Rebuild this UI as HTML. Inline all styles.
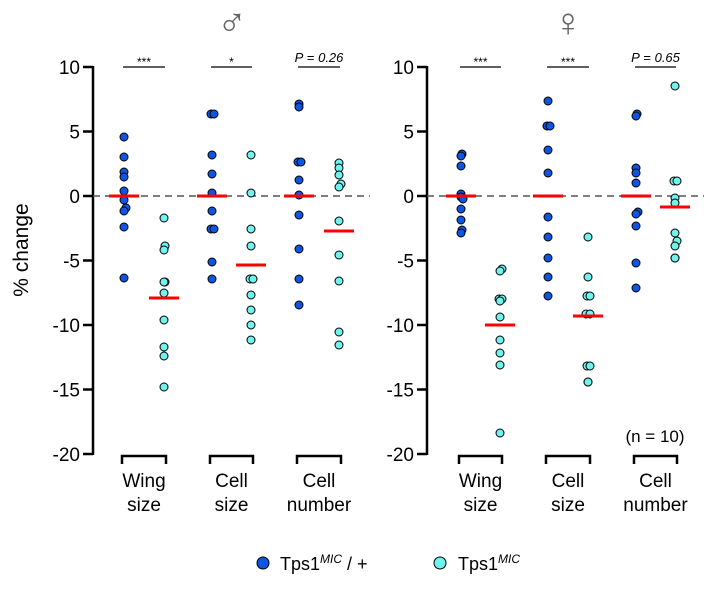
<!DOCTYPE html>
<html><head><meta charset="utf-8"><style>
html,body{margin:0;padding:0;background:#fff}
svg{display:block;font-family:"Liberation Sans",Arial,sans-serif}
</style></head><body>
<svg id="s" width="720" height="600" viewBox="0 0 720 600" xmlns="http://www.w3.org/2000/svg">
<rect width="720" height="600" fill="#fff"/>
<text x="232" y="36" font-size="40" text-anchor="middle" fill="#666" font-family="DejaVu Sans ExtraLight, DejaVu Sans, sans-serif" font-weight="200">♂</text>
<text x="568" y="36" font-size="40" text-anchor="middle" fill="#666" font-family="DejaVu Sans ExtraLight, DejaVu Sans, sans-serif" font-weight="200">♀</text>
<text x="28" y="250" font-size="21" text-anchor="middle" transform="rotate(-90 28 250)">% change</text>
<g id="g"></g>
<circle cx="263" cy="563" r="6" fill="#0b57e3" stroke="#000" stroke-width="1"/>
<text x="280" y="570" font-size="18">Tps1<tspan font-size="12" font-style="italic" dy="-7">MIC</tspan><tspan dy="7"> / +</tspan></text>
<circle cx="440" cy="563" r="6" fill="#6ff3ee" stroke="#000" stroke-width="1"/>
<text x="458" y="570" font-size="18">Tps1<tspan font-size="12" font-style="italic" dy="-7">MIC</tspan></text>
</svg>
<script>
var g=document.getElementById('g'),h='';
function Y(v){return 196-12.9*v;}
function panel(ax,xs,sig,data,means){
  h+='<line x1="'+ax+'" y1="66" x2="'+ax+'" y2="455" stroke="#000" stroke-width="2.5"/>';
  [10,5,0,-5,-10,-15,-20].forEach(function(v){var y=Y(v);
    h+='<line x1="'+(ax-10)+'" y1="'+y+'" x2="'+ax+'" y2="'+y+'" stroke="#000" stroke-width="2.5"/>';
    h+='<text x="'+(ax-13)+'" y="'+(y+7)+'" font-size="19" text-anchor="end">'+v+'</text>';});
  h+='<line x1="'+ax+'" y1="196" x2="'+(ax+277)+'" y2="196" stroke="#555" stroke-width="1.5" stroke-dasharray="7,5"/>';
  var labs=[['Wing','size'],['Cell','size'],['Cell','number']];
  for(var i=0;i<3;i++){var a=xs[2*i],b=xs[2*i+1],c=(a+b)/2;
    h+='<path d="M'+(a-2)+' 464 V456 H'+(b+2)+' V464" fill="none" stroke="#000" stroke-width="2.5"/>';
    h+='<text x="'+c+'" y="487" font-size="19" text-anchor="middle">'+labs[i][0]+'</text>';
    h+='<text x="'+c+'" y="511" font-size="19" text-anchor="middle">'+labs[i][1]+'</text>';
    h+='<line x1="'+(a-1)+'" y1="67" x2="'+(b+1)+'" y2="67" stroke="#000" stroke-width="1.3"/>';
    var s=sig[i];
    if(s[0]=='P') h+='<text x="'+c+'" y="62" font-size="13" font-style="italic" text-anchor="middle">P<tspan font-style="normal"> = </tspan>'+s.slice(1)+'</text>';
    else h+='<text x="'+c+'" y="66" font-size="12" text-anchor="middle">'+s+'</text>';
  }
  for(var j=0;j<6;j++){var col=j%2?'#6ff3ee':'#0b57e3';
    data[j].forEach(function(p){var x=xs[j],y=p;if(Array.isArray(p)){x+=p[1];y=p[0];}
      h+='<circle cx="'+x+'" cy="'+y+'" r="4" fill="'+col+'" stroke="#000" stroke-width="1"/>';});
    h+='<line x1="'+(xs[j]-15)+'" y1="'+means[j]+'" x2="'+(xs[j]+15)+'" y2="'+means[j]+'" stroke="#f00" stroke-width="3"/>';
  }
}
panel(93,[124,164,212,251,299,339],['***','*','P0.26'],[
 [137,157,172,177,191,200,[208,2],211,227,278],
 [218,[246,1],250,[282,1],282,293,320,347,356,387],
 [[114,-1],[114,2],155,174,193,211,[229,-1],[229,2],262,279],
 [155,193,229,246,[279,-1],[279,2],295,310,325,340],
 [104,107,[162,-1],[162,2],180,195,215,249,279,305],
 [163,168,175,[184,2],187,221,255,281,332,345]
],[196,298,196,265,196,231]);
panel(427,[461,500,548,588,636,675],['***','***','P0.65'],[
 [[154,1],156,166,194,197,[199,2],209,220,[230,1],233],
 [[269,2],271,[299,-1],[299,2],301,317,340,353,365,433],
 [101,[126,-1],[126,2],150,173,217,237,258,277,296],
 [237,277,[296,-1],[296,2],[314,-2],[314,2],[366,-1],[366,2],382,382],
 [[114,1],116,168,173,183,[212,2],214,226,263,288],
 [86,[181,-1],[181,2],198,203,233,[241,2],246,258,258]
],[196,325,196,316,196,207]);
h+='<text x="655" y="442" font-size="17" text-anchor="middle">(n = 10)</text>';
g.innerHTML=h;
</script>
</body></html>
